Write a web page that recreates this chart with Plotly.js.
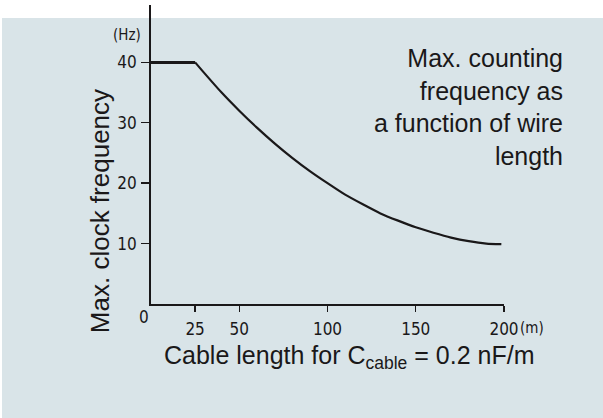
<!DOCTYPE html>
<html>
<head>
<meta charset="utf-8">
<script src="https://cdn.plot.ly/plotly-3.0.1.min.js"></script>
<style>html,body{margin:0;padding:0;background:#fff;}#chart{width:603px;height:418px;}</style>
</head>
<body>
<div id="chart"></div>
<script>
// Cable length (m) and max. clock frequency (Hz)
var flatLength = [0, 25];
var flatFreq = [40, 40];
var curveLength = [25, 30, 40, 50, 60, 70, 80, 90, 100, 110, 120, 130, 140, 150, 160, 170, 180, 190, 198.5];
var curveFreq = [40, 38.3, 35.0, 32.0, 29.2, 26.6, 24.2, 22.0, 20.0, 18.1, 16.5, 15.0, 13.8, 12.7, 11.8, 11.0, 10.4, 10.0, 9.9];

var xTickVals = [25, 50, 100, 150, 200];
var xTickText = ['25', '50', '100', '150', '200'];
var yTickVals = [10, 20, 30, 40];
var yTickText = ['10', '20', '30', '40'];

var ink = '#1a1819';
var panel = '#d9e4e8';
var tickFont = {family: 'DejaVu Sans Condensed', size: 17, color: ink};
var textFont = {family: 'Liberation Sans, Arial, sans-serif', size: 25, color: ink};

// plot area in pixels: left 151, right 504, top 5, bottom 304.5
var L = 151, R = 504, T = 5, B = 304.5;
function px(x) { return (x - L) / (R - L); }
function py(y) { return (B - y) / (B - T); }

var traces = [
  {x: flatLength, y: flatFreq, mode: 'lines', line: {color: ink, width: 3}, hoverinfo: 'skip', cliponaxis: false},
  {x: curveLength, y: curveFreq, mode: 'lines', line: {color: ink, width: 2.2, shape: 'spline', smoothing: 0.6}, hoverinfo: 'skip', cliponaxis: false}
];

var layout = {
  width: 603, height: 418,
  margin: {l: L, r: 603 - R, t: T, b: 418 - B, pad: 0},
  paper_bgcolor: panel,
  plot_bgcolor: 'rgba(0,0,0,0)',
  showlegend: false,
  xaxis: {
    range: [0, 200], showgrid: false, zeroline: false,
    showline: true, linecolor: ink, linewidth: 1.6,
    ticks: 'outside', ticklen: 6, tickwidth: 1.4, tickcolor: ink,
    tickvals: xTickVals, ticktext: xTickText,
    tickfont: tickFont,
    ticklabelstandoff: 3,
    fixedrange: true
  },
  yaxis: {
    range: [0, 49.5], showgrid: false, zeroline: false,
    showline: true, linecolor: ink, linewidth: 1.8,
    ticks: 'outside', ticklen: 8, tickwidth: 1.4, tickcolor: ink,
    tickvals: yTickVals, ticktext: yTickText,
    tickfont: tickFont,
    ticklabelstandoff: 1,
    fixedrange: true
  },
  shapes: [
    {type: 'rect', xref: 'paper', yref: 'paper', x0: px(-5), x1: px(610), y0: py(18), y1: py(-5), fillcolor: '#ffffff', line: {width: 0}, layer: 'below'},
    {type: 'rect', xref: 'paper', yref: 'paper', x0: px(-5), x1: px(2), y0: py(425), y1: py(-5), fillcolor: '#ffffff', line: {width: 0}, layer: 'below'}
  ],
  annotations: [
    {xref: 'paper', yref: 'paper', x: px(565), y: py(107), xanchor: 'right', yanchor: 'middle', align: 'right', showarrow: false,
     text: 'Max. counting<br>frequency as<br>a function of wire<br>length', font: textFont},
    {xref: 'paper', yref: 'paper', x: px(100), y: py(211.5), xanchor: 'center', yanchor: 'middle', textangle: -90, showarrow: false,
     text: 'Max. clock frequency', font: {family: 'Liberation Sans, Arial, sans-serif', size: 26, color: ink}},
    {xref: 'paper', yref: 'paper', x: px(349), y: py(358), xanchor: 'center', yanchor: 'middle', showarrow: false,
     text: 'Cable length for C<sub>cable</sub> = 0.2 nF/m', font: textFont},
    {xref: 'paper', yref: 'paper', x: px(127), y: py(35), xanchor: 'center', yanchor: 'middle', showarrow: false,
     text: '(Hz)', font: {family: 'DejaVu Sans Condensed', size: 15, color: ink}},
    {xref: 'paper', yref: 'paper', x: px(532), y: py(329), xanchor: 'center', yanchor: 'middle', showarrow: false,
     text: '(m)', font: {family: 'DejaVu Sans Condensed', size: 15, color: ink}},
    {xref: 'paper', yref: 'paper', x: px(144), y: py(318), xanchor: 'center', yanchor: 'middle', showarrow: false,
     text: '0', font: tickFont}
  ]
};

Plotly.newPlot('chart', traces, layout, {staticPlot: true, displayModeBar: false});
</script>
</body>
</html>
